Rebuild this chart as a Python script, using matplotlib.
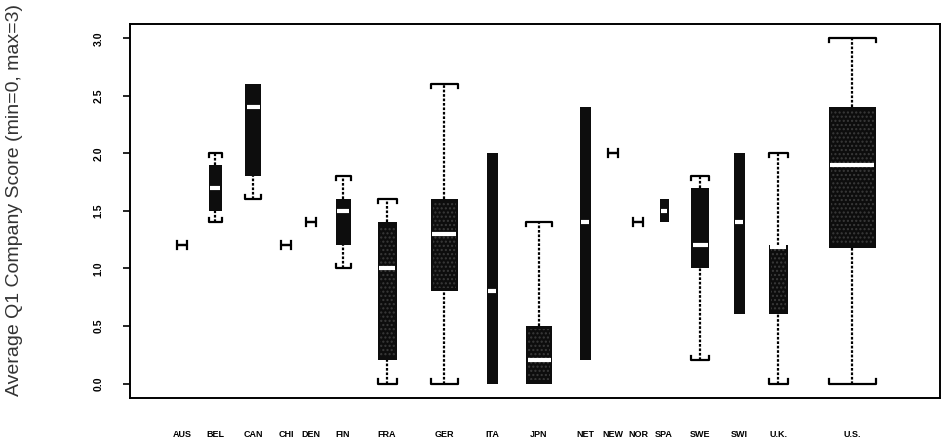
import matplotlib.pyplot as plt
from matplotlib.patches import Rectangle

plt.rcParams['font.family'] = ['Liberation Sans', 'DejaVu Sans']

# ---------------------------------------------------------------------
# Data: box statistics per country
# ---------------------------------------------------------------------
countries = ["AUS", "BEL", "CAN", "CHI", "DEN", "FIN", "FRA", "GER", "ITA",
             "JPN", "NET", "NEW", "NOR", "SPA", "SWE", "SWI", "U.K.", "U.S."]
whisker_lo = [1.2, 1.4, 1.6, 1.2, 1.4, 1.0, 0.0, 0.0, 0.0,
              0.0, 0.2, 2.0, 1.4, 1.4, 0.2, 0.6, 0.0, 0.0]
q1 = [1.2, 1.5, 1.8, 1.2, 1.4, 1.2, 0.2, 0.8, 0.0,
      0.0, 0.2, 2.0, 1.4, 1.4, 1.0, 0.6, 0.6, 1.18]
median = [1.2, 1.7, 2.4, 1.2, 1.4, 1.5, 1.0, 1.3, 0.8,
          0.2, 1.4, 2.0, 1.4, 1.5, 1.2, 1.4, 1.19, 1.9]
q3 = [1.2, 1.9, 2.6, 1.2, 1.4, 1.6, 1.4, 1.6, 2.0,
      0.5, 2.4, 2.0, 1.4, 1.6, 1.7, 2.0, 1.2, 2.4]
whisker_hi = [1.2, 2.0, 2.6, 1.2, 1.4, 1.8, 1.6, 2.6, 2.0,
              1.4, 2.4, 2.0, 1.4, 1.6, 1.8, 2.0, 2.0, 3.0]

# ---------------------------------------------------------------------
# Layout (variable width boxes, positions in axis pixel units)
# ---------------------------------------------------------------------
positions = [182, 215, 253, 286, 311, 343, 387, 444, 492,
             539, 585, 613, 638, 664, 700, 739, 778, 852]
widths = [10, 13, 16, 10, 10, 15, 19, 27, 11,
          26, 11, 10, 10, 9, 18, 11, 19, 47]
stippled = {"FRA", "GER", "JPN", "U.K.", "U.S."}

fig = plt.figure(figsize=(9.47, 4.44), dpi=100)
ax = fig.add_axes([130 / 947, 1 - 398 / 444, 810 / 947, 374 / 444])
ax.set_xlim(130, 940)
ax.set_ylim(-0.126, 3.124)

tick = 0.035  # cap tick length in data units

for name, x, w, lo, a, m, b, hi in zip(countries, positions, widths,
                                       whisker_lo, q1, median, q3, whisker_hi):
    left, right = x - w / 2, x + w / 2
    single = (b - a) == 0

    # box
    if not single:
        ax.add_patch(Rectangle((left, a), w, b - a, facecolor="#0d0d0d",
                               edgecolor="none", zorder=2))
        if name in stippled:
            ax.add_patch(Rectangle((left + 2, a + 0.03), w - 4, b - a - 0.06,
                                   facecolor="none", edgecolor="#3a3a3a",
                                   hatch="....", linewidth=0, zorder=2.5))
        # median
        ax.plot([left + 1.5, right - 1.5], [m, m], color="white", lw=3,
                solid_capstyle="butt", zorder=3)

    # whiskers
    if hi > b:
        ax.plot([x, x], [b, hi], color="black", lw=1.6,
                linestyle=(0, (1.2, 0.8)), zorder=1)
    if lo < a:
        ax.plot([x, x], [lo, a], color="black", lw=1.6,
                linestyle=(0, (1.2, 0.8)), zorder=1)

    # caps
    if hi > b or single:
        ax.plot([left, left, right, right], [hi - tick, hi, hi, hi - tick],
                color="black", lw=1.6, zorder=3)
    if lo < a or single:
        ax.plot([left, left, right, right], [lo + tick, lo, lo, lo + tick],
                color="black", lw=1.6, zorder=3)

# axes styling
for s in ax.spines.values():
    s.set_linewidth(1.4)
ax.set_xticks(positions)
ax.set_xticklabels(countries, fontsize=6.5, fontweight="bold")
ax.tick_params(axis="x", length=0, pad=23)

ax.set_yticks([0.0, 0.5, 1.0, 1.5, 2.0, 2.5, 3.0])
ax.set_yticklabels(["0.0", "0.5", "1.0", "1.5", "2.0", "2.5", "3.0"],
                   rotation=90, va="center", fontsize=7.5, fontweight="bold")
ax.tick_params(axis="y", length=5, width=1.2, pad=14)

fig.text(15 / 947, 1 - 200 / 444, "Average Q1 Company Score (min=0, max=3)",
         rotation=90, ha="center", va="center", fontsize=14, color="#333333")

plt.savefig("out.png", dpi=100)
